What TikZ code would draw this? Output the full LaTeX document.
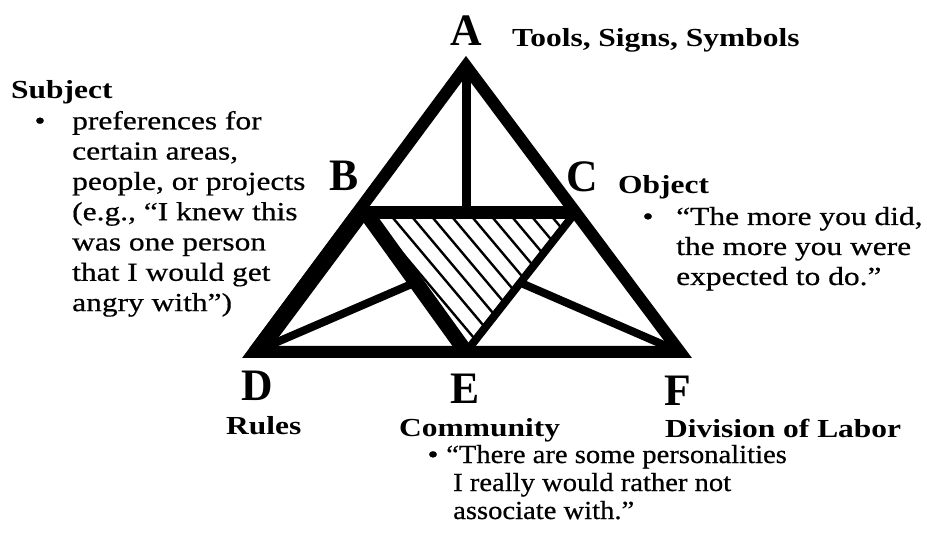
\documentclass[tikz,border=0pt]{standalone}
\usepackage{fontspec}
\setmainfont{Liberation Serif}[FakeStretch=1.21]
\newfontfamily\bodyfont{Liberation Serif}[FakeStretch=1.21, FakeBold=0.6]
\newfontfamily\condfont{Liberation Serif}[FakeStretch=1.1, FakeBold=0.6]
\newfontfamily\letfont{Liberation Serif}[FakeStretch=0.97]
\usetikzlibrary{calc}
\begin{document}
\begin{tikzpicture}[x=1pt,y=-1pt,
  txt/.style={inner sep=0pt, anchor=base west, font=\bodyfont\fontsize{26}{28}\selectfont},
  head/.style={inner sep=0pt, anchor=base west, font=\fontsize{26}{28}\selectfont\bfseries},
  cond/.style={inner sep=0pt, anchor=base west, font=\condfont\fontsize{26}{28}\selectfont},
  bul/.style={inner sep=0pt, anchor=base, font=\bodyfont\fontsize{26}{28}\selectfont},
  vlet/.style={inner sep=0pt, anchor=base, font=\letfont\fontsize{45}{45}\selectfont\bfseries},
  hatchline/.style={line width=2.4pt},
]
\useasboundingbox (0,0) rectangle (927,537);
% geometry
\coordinate (A) at (466,66);
\coordinate (D) at (254,352);
\coordinate (F) at (680,352);
\coordinate (Bj) at (357.4,213);
\coordinate (Cj) at (575.8,213);
\coordinate (Bi) at (366,213);
\coordinate (Ci) at (575,213);
\coordinate (E) at (466,352);
\coordinate (Am) at (466,213);
\coordinate (P1) at (414,283);
\coordinate (P2) at (521,283);
\coordinate (Ao) at (466,56);
\coordinate (Do) at (242.1,358);
\coordinate (Fo) at (689.9,358);
% hatching
\begin{scope}
  \clip (Bi) -- (Ci) -- (E) -- cycle;
  \foreach \k in {-5,...,12} \draw[hatchline] (372+20*\k,193) -- ++(180,214);
\end{scope}
% outer triangle
\draw[line width=12pt, line join=miter] (A) -- (D) -- (F) -- cycle;
\begin{scope}
  \clip (Ao) -- (Do) -- (Fo) -- cycle;
  \draw[line width=17pt] ($(Bj)+(2,1.5)$) -- ($(D)+(2,1.5)$);
\end{scope}
% inner lines
\draw[line width=8pt] (D) -- (P1);
\draw[line width=8pt] (F) -- (P2);
\draw[line width=13pt] (Bj) -- (Cj);
\draw[line width=9pt] (A) -- (Am);
\draw[line width=15pt] (Bi) -- (E);
\draw[line width=8pt] (Ci) -- (E);
% vertex letters
\node[vlet] (LA) at (466,46) {A};
\node[vlet] (LB) at (344,191) {B};
\node[vlet] (LC) at (582,192) {C};
\node[vlet] (LD) at (257,401) {D};
\node[vlet] (LE) at (465,404) {E};
\node[vlet] (LF) at (678,406) {F};
% labels
\node[head] (tools) at (512,47) {Tools, Signs, Symbols};
\node[head] (subj) at (11,99) {Subject};
\node[head] (obj) at (618,194) {Object};
\node[head] (rules) at (226,435) {Rules};
\node[head] (comm) at (399,436) {Community};
\node[head] (div) at (665,437) {Division of Labor};
% subject bullet
\node[bul] (sb) at (40,129.3) {•};
\node[txt] (s1) at (72,129.3) {preferences for};
\node[txt] (s2) at (72,159.6) {certain areas,};
\node[txt] (s3) at (72,189.9) {people, or projects};
\node[txt] (s4) at (72,220.2) {(e.g., “I knew this};
\node[txt] (s5) at (72,250.5) {was one person};
\node[txt] (s6) at (72,280.8) {that I would get};
\node[txt] (s7) at (72,311.1) {angry with”)};
% object bullet
\node[bul] (ob) at (648,225) {•};
\node[txt] (o1) at (676,225) {“The more you did,};
\node[txt] (o2) at (676,255) {the more you were};
\node[txt] (o3) at (676,285) {expected to do.”};
% community bullet
\node[bul] (cb) at (433,463) {•};
\node[cond] (c1) at (446,463) {“There are some personalities};
\node[cond] (c2) at (453,491) {I really would rather not};
\node[cond] (c3) at (453,519) {associate with.”};
\end{tikzpicture}
\end{document}
